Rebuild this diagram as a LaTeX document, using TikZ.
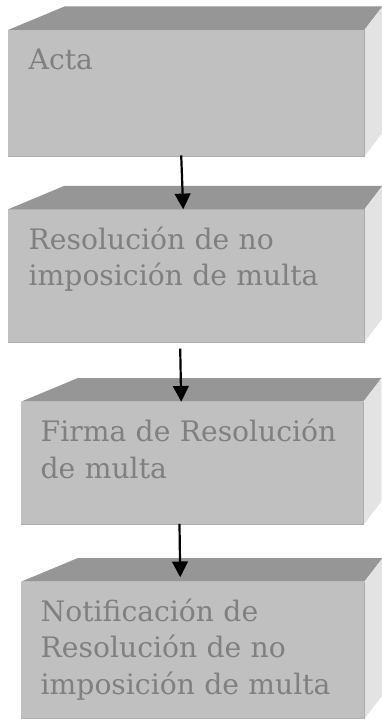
\documentclass[tikz,border=0pt]{standalone}
\usepackage{fontspec}
\setmainfont{DejaVu Serif}
\usetikzlibrary{arrows.meta,calc}
\definecolor{frontc}{HTML}{C0C0C0}
\definecolor{topc}{HTML}{969696}
\definecolor{sidec}{HTML}{E3E3E3}
\definecolor{edgec}{HTML}{ADADAD}
\definecolor{txtc}{HTML}{808080}
\tikzset{
  front/.style={fill=frontc, draw=none, inner sep=0pt, anchor=north west},
  topface/.style={fill=topc},
  sideface/.style={fill=sidec},
  edgeline/.style={draw=edgec, line width=0.9pt},
  boxtext/.style={text=txtc, anchor=base west, inner sep=0pt, text width=340pt, align=left,
    font=\fontsize{28.2}{36.6}\selectfont},
  flowarrow/.style={draw=black, line width=2.2pt, -{Triangle[width=15.7pt,length=15.7pt]}}
}
\newcommand{\boxfaces}[1]{%
  \fill[topface] (#1.north west) -- ++(56.5,-23.5) -- ($(#1.north east)+(18,-23.5)$) -- (#1.north east) -- cycle;
  \fill[sideface] (#1.north east) -- ++(18,-23.5) -- ($(#1.south east)+(18,-23.5)$) -- (#1.south east) -- cycle;
  \draw[edgeline] (#1.south west) -- (#1.south east) -- (#1.north east);
}
\begin{document}
\begin{tikzpicture}[x=1pt,y=-1pt]
\useasboundingbox (0,0) rectangle (382,719);
\fill[white] (0,0) rectangle (382,719);
% front faces
\node[front, minimum width=356pt, minimum height=126pt] (f1) at (8,30) {};
\node[front, minimum width=356pt, minimum height=132.4pt] (f2) at (8,209.3) {};
\node[front, minimum width=342pt, minimum height=122.8pt] (f3) at (21,401.7) {};
\node[front, minimum width=343pt, minimum height=136.8pt] (f4) at (21,581.7) {};
\boxfaces{f1}
\boxfaces{f2}
\boxfaces{f3}
\boxfaces{f4}
% texts
\node[boxtext] (t1) at (28.5,69.3) {Acta};
\node[boxtext] (t2) at (28.5,249.3) {Resolución de no\\imposición de multa};
\node[boxtext] (t3) at (40.5,441.7) {Firma de Resolución\\de multa};
\node[boxtext] (t4) at (40.5,621) {Notificación de\\Resolución de no\\imposición de multa};
% arrows
\draw[flowarrow] ([xshift=-5pt,yshift=1pt]f1.south) -- ([xshift=-3pt]f2.north);
\draw[flowarrow] ([xshift=-6pt,yshift=-6.5pt]f2.south) -- ([xshift=-11pt]f3.north);
\draw[flowarrow] ([xshift=-12.7pt,yshift=1pt]f3.south) -- ([xshift=-12.5pt,yshift=4.5pt]f4.north);
\end{tikzpicture}
\end{document}
